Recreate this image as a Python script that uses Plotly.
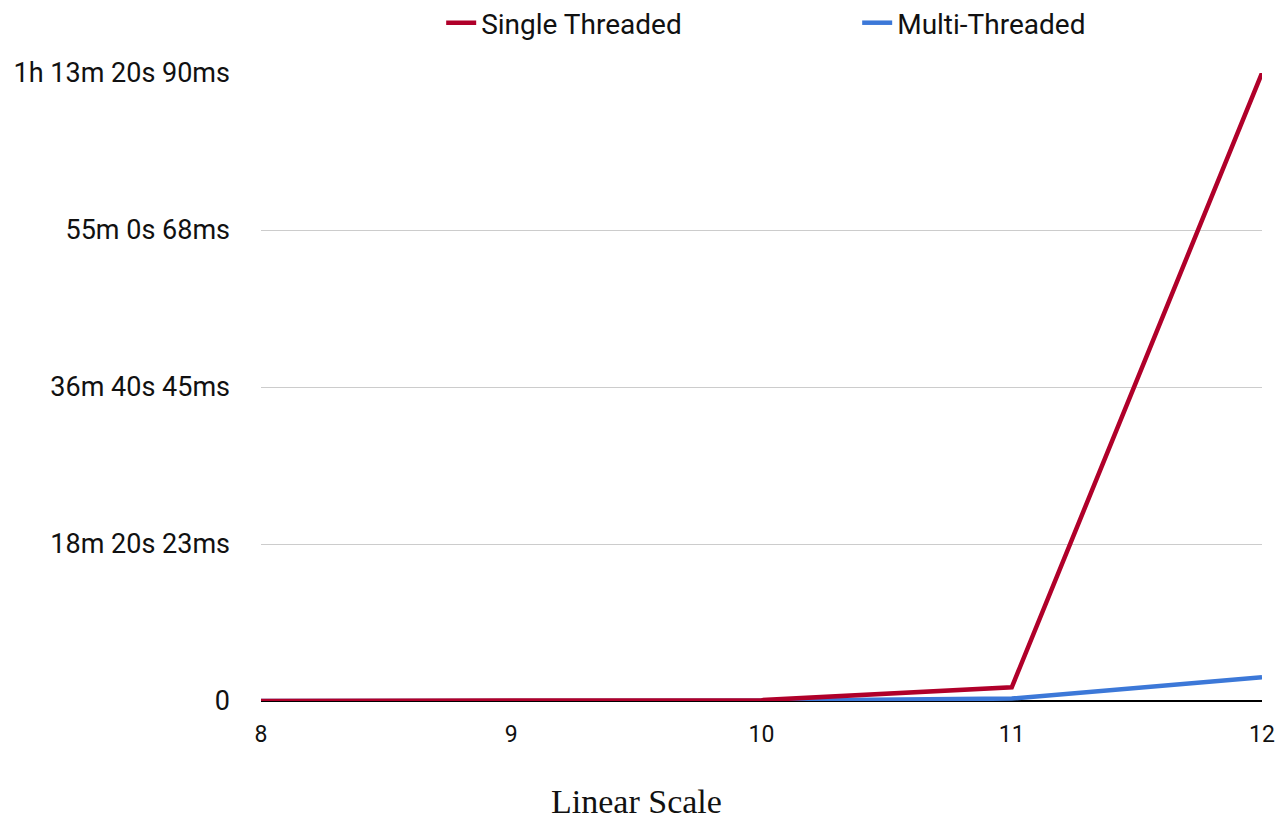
import plotly.graph_objects as go

sizes = [8, 9, 10, 11, 12]
single_threaded_s = [0.3, 1.2, 6.0, 96.0, 4400.09]
multi_threaded_s = [0.1, 0.4, 1.5, 17.0, 166.0]
tick_vals = [0, 1100.0225, 2200.045, 3300.0675, 4400.09]
tick_text = ["0", "18m 20s 23ms", "36m 40s 45ms", "55m 0s 68ms", "1h 13m 20s 90ms"]

fig = go.Figure()
fig.add_trace(go.Scatter(x=sizes, y=multi_threaded_s, mode="lines", name="Multi-Threaded",
                         line=dict(color="#3C78D8", width=4.5)))
fig.add_trace(go.Scatter(x=sizes, y=single_threaded_s, mode="lines", name="Single Threaded",
                         line=dict(color="#B0002A", width=4.5)))

fig.update_layout(
    width=1287, height=820,
    paper_bgcolor="white", plot_bgcolor="white",
    margin=dict(l=261, r=25, t=73, b=119, autoexpand=False),
    font=dict(family="Roboto, Arial, sans-serif", size=27, color="#111"),
    legend=dict(orientation="h", x=0.18, xanchor="left", xref="paper",
                y=1 - 23 / 820, yanchor="middle", yref="container",
                traceorder="reversed", entrywidth=371, entrywidthmode="pixels",
                font=dict(size=28), bgcolor="rgba(0,0,0,0)"),
    showlegend=True,
    annotations=[dict(text="Linear Scale", xref="paper", yref="paper",
                      x=(636 - 261) / 1001, y=(701 - 801) / 628,
                      xanchor="center", yanchor="middle", showarrow=False,
                      font=dict(family="Liberation Serif, serif", size=34, color="#111"))],
)
fig.update_xaxes(range=[8, 12], tickvals=sizes, ticktext=[str(s) for s in sizes],
                 showgrid=False, zeroline=False, showline=False, ticks="",
                 tickfont=dict(size=23), ticklabelstandoff=17, automargin=False)
fig.update_yaxes(range=[0, 4400.09], tickvals=tick_vals, ticktext=tick_text,
                 showgrid=True, gridcolor="#cccccc", gridwidth=1,
                 zeroline=True, zerolinecolor="#000", zerolinewidth=2,
                 showline=False, ticks="", ticklabelstandoff=30, automargin=False)

fig.write_html("out.html", config={"displayModeBar": False},
               post_script="document.body.style.margin='0';document.body.style.overflow='hidden';")
